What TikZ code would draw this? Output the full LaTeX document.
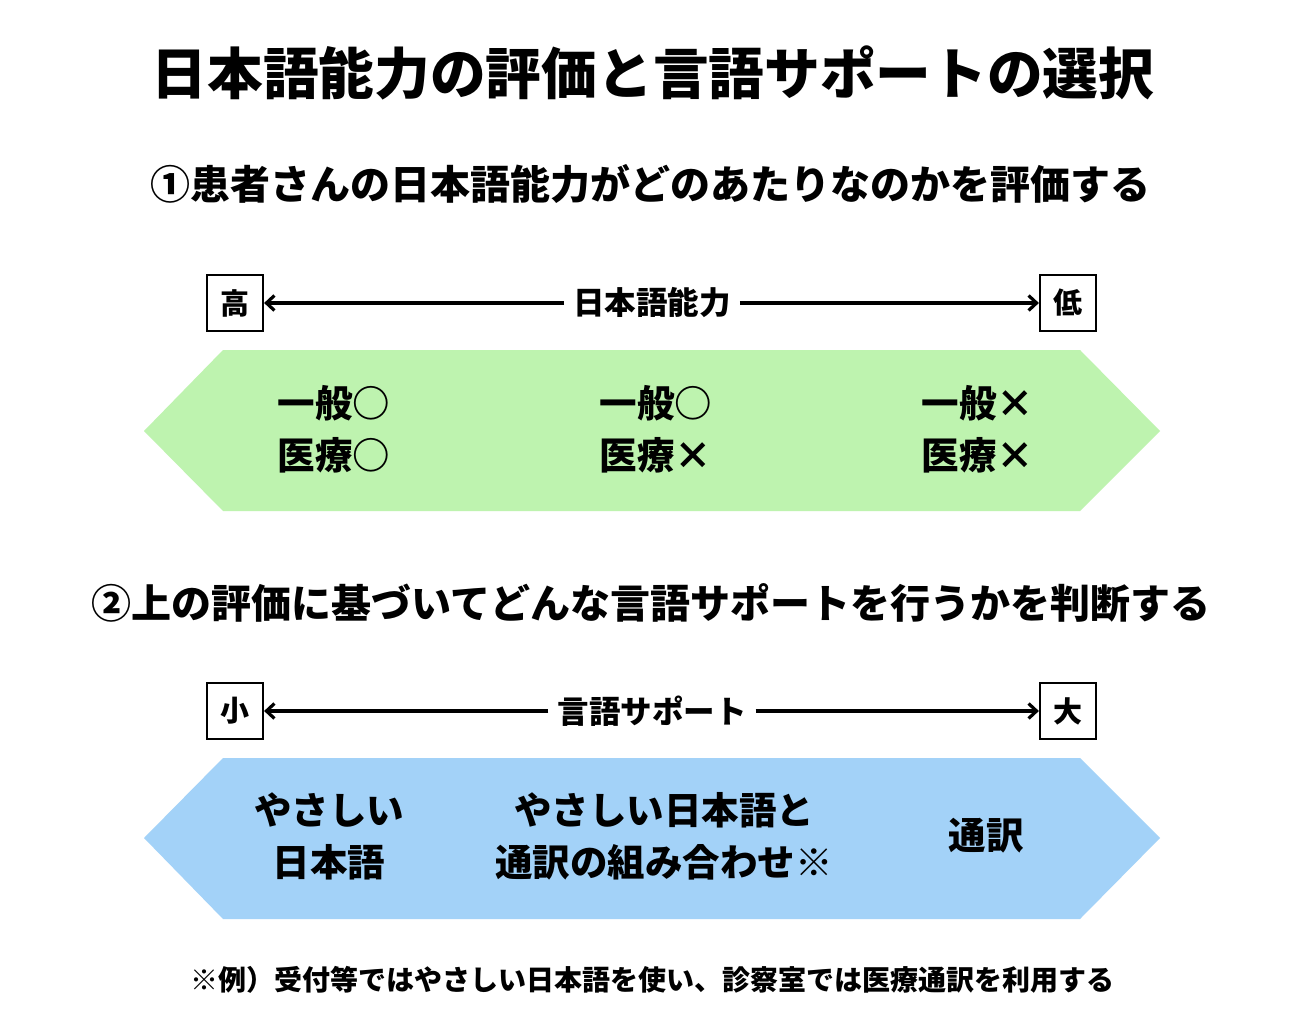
\documentclass[tikz,border=0pt]{standalone}
\usepackage{fontspec}
\setmainfont{Noto Sans CJK JP}
\usetikzlibrary{arrows.meta}
\definecolor{pgreen}{RGB}{190,243,175}
\definecolor{pblue}{RGB}{163,210,248}
\begin{document}
\begin{tikzpicture}[x=1pt,y=-1pt,
  every node/.style={font=\bfseries, inner sep=0pt},
  endbox/.style={draw, line width=2.2pt, minimum width=56pt, minimum height=56pt, font=\bfseries\fontsize{29}{29}\selectfont},
  scalelbl/.style={font=\bfseries\fontsize{31.5}{31.5}\selectfont, fill=white, inner xsep=9pt},
  arr/.style={draw, -{Straight Barb[length=8pt,width=15pt]}},
  cell/.style={align=center, font=\bfseries\fontsize{37.5}{52}\selectfont},
  band/.style={draw=none}
]
\useasboundingbox (0,0) rectangle (1304,1024);
\fill[white] (0,0) rectangle (1304,1024);

\node[font=\bfseries\fontsize{55.7}{55.7}\selectfont] (title) at (653,73) {日本語能力の評価と言語サポートの選択};
\node[font=\bfseries\fontsize{40}{40}\selectfont] (sub1) at (650,184) {①患者さんの日本語能力がどのあたりなのかを評価する};

% scale 1
\node[endbox] (hi) at (235,303) {高};
\node[endbox] (lo) at (1068,303) {低};
\node[scalelbl] (lbl1) at (652,303) {日本語能力};
\draw[arr, line width=3.2pt] (lbl1.west) -- (hi.east);
\draw[arr, line width=3.2pt] (lbl1.east) -- (lo.west);

\fill[pgreen] (144,431) -- (223,350) -- (1080,350) -- (1160,431) -- (1080,511) -- (223,511) -- cycle;
\node[cell] (g1) at (334,429) {一般○\\医療○};
\node[cell] (g2) at (656,429) {一般○\\医療×};
\node[cell] (g3) at (978,429) {一般×\\医療×};

\node[font=\bfseries\fontsize{40}{40}\selectfont] (sub2) at (651,603) {②上の評価に基づいてどんな言語サポートを行うかを判断する};

% scale 2
\node[endbox] (sm) at (235,711) {小};
\node[endbox] (lg) at (1068,711) {大};
\node[scalelbl] (lbl2) at (652,711) {言語サポート};
\draw[arr, line width=3.2pt] (lbl2.west) -- (sm.east);
\draw[arr, line width=3.2pt] (lbl2.east) -- (lg.west);

\fill[pblue] (144,838) -- (223,758) -- (1080,758) -- (1160,838) -- (1080,919) -- (223,919) -- cycle;
\node[cell] (b1) at (329,836) {やさしい\\日本語};
\node[cell] (b2) at (664,836) {やさしい日本語と\\通訳の組み合わせ※};
\node[cell] (b3) at (986,836) {通訳};

\node[font=\bfseries\fontsize{28}{28}\selectfont] (note) at (652,980) {※例）受付等ではやさしい日本語を使い、診察室では医療通訳を利用する};
\end{tikzpicture}
\end{document}
